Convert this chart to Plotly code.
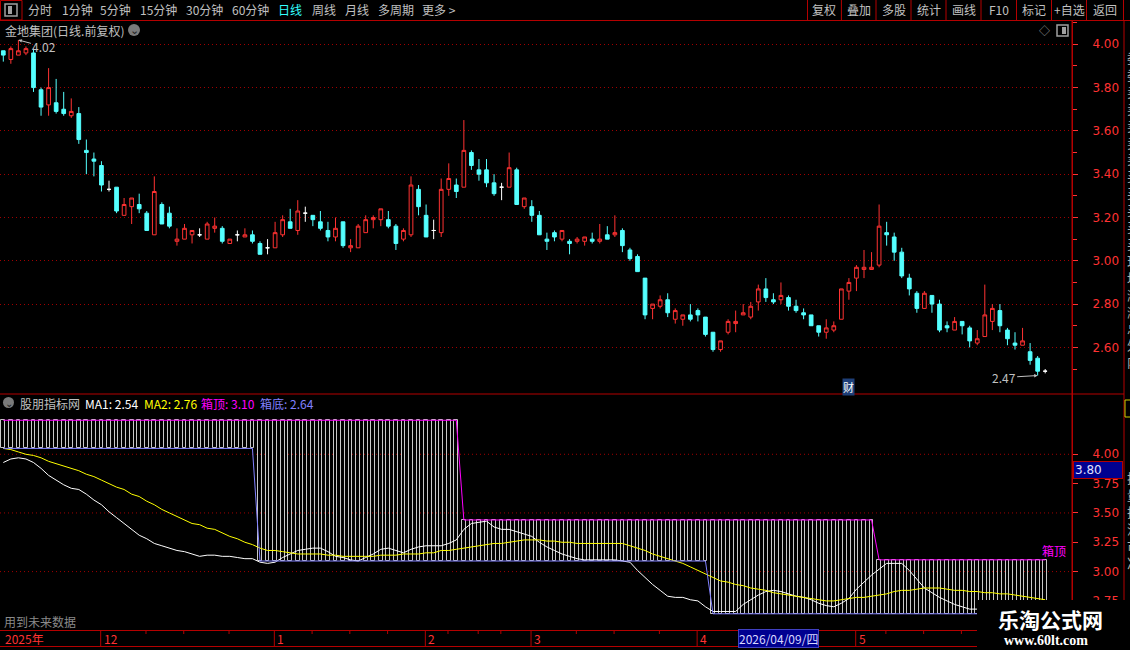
import plotly.graph_objects as go

W, H = 1130, 650

# ---- values ----
opens = [3.97, 3.93, 3.95, 3.96, 3.96, 3.79, 3.72, 3.73, 3.70, 3.67,
         3.68, 3.51, 3.47, 3.44, 3.33, 3.34, 3.21, 3.25, 3.26, 3.22,
         3.12, 3.26, 3.22, 3.09, 3.10, 3.12, 3.12, 3.10, 3.15, 3.15,
         3.08, 3.12, 3.11, 3.12, 3.08, 3.06, 3.06, 3.12, 3.18, 3.14,
         3.22, 3.21, 3.18, 3.14, 3.11, 3.18, 3.06, 3.06, 3.13, 3.19,
         3.19, 3.19, 3.16, 3.10, 3.12, 3.33, 3.21, 3.14, 3.13, 3.33,
         3.35, 3.34, 3.50, 3.42, 3.42, 3.36, 3.34, 3.34, 3.42, 3.25,
         3.25, 3.21, 3.10, 3.13, 3.10, 3.09, 3.09, 3.09, 3.10, 3.09,
         3.12, 3.12, 3.14, 3.05, 3.02, 2.92, 2.78, 2.79, 2.82, 2.73,
         2.73, 2.75, 2.77, 2.74, 2.67, 2.59, 2.67, 2.71, 2.75, 2.74,
         2.81, 2.87, 2.82, 2.82, 2.83, 2.79, 2.76, 2.75, 2.70, 2.67,
         2.68, 2.73, 2.86, 2.92, 2.96, 2.96, 2.98, 3.13, 3.11, 3.04,
         2.92, 2.85, 2.78, 2.84, 2.80, 2.70, 2.68, 2.72, 2.69, 2.62,
         2.65, 2.72, 2.77, 2.68, 2.62, 2.61, 2.58, 2.55, 2.49]
highs = [3.97, 3.99, 4.02, 3.99, 3.98, 3.80, 3.89, 3.84, 3.78, 3.75,
         3.71, 3.56, 3.50, 3.46, 3.37, 3.34, 3.29, 3.29, 3.31, 3.23,
         3.39, 3.27, 3.25, 3.15, 3.17, 3.14, 3.15, 3.18, 3.20, 3.16,
         3.10, 3.14, 3.15, 3.14, 3.09, 3.10, 3.18, 3.21, 3.24, 3.28,
         3.25, 3.21, 3.23, 3.18, 3.20, 3.18, 3.10, 3.17, 3.21, 3.21,
         3.24, 3.23, 3.17, 3.15, 3.39, 3.35, 3.26, 3.19, 3.38, 3.45,
         3.38, 3.65, 3.51, 3.47, 3.47, 3.40, 3.36, 3.50, 3.43, 3.29,
         3.28, 3.23, 3.13, 3.14, 3.14, 3.10, 3.11, 3.11, 3.13, 3.17,
         3.16, 3.21, 3.15, 3.06, 3.03, 2.92, 2.80, 2.84, 2.85, 2.78,
         2.75, 2.80, 2.78, 2.74, 2.67, 2.63, 2.73, 2.77, 2.80, 2.81,
         2.89, 2.92, 2.85, 2.90, 2.84, 2.82, 2.78, 2.75, 2.70, 2.73,
         2.72, 2.87, 2.92, 2.98, 3.05, 3.04, 3.26, 3.18, 3.13, 3.06,
         2.94, 2.86, 2.86, 2.84, 2.82, 2.72, 2.74, 2.72, 2.70, 2.68,
         2.89, 2.80, 2.80, 2.69, 2.67, 2.69, 2.62, 2.56, 2.50]
lows = [3.92, 3.91, 3.95, 3.95, 3.78, 3.67, 3.67, 3.68, 3.67, 3.66,
        3.54, 3.40, 3.39, 3.32, 3.32, 3.22, 3.21, 3.17, 3.22, 3.14,
        3.12, 3.17, 3.15, 3.07, 3.10, 3.08, 3.11, 3.10, 3.13, 3.08,
        3.08, 3.09, 3.11, 3.08, 3.03, 3.03, 3.06, 3.11, 3.15, 3.12,
        3.18, 3.16, 3.14, 3.09, 3.09, 3.06, 3.04, 3.06, 3.13, 3.15,
        3.16, 3.15, 3.05, 3.09, 3.11, 3.21, 3.11, 3.10, 3.11, 3.30,
        3.29, 3.34, 3.42, 3.37, 3.34, 3.30, 3.28, 3.34, 3.26, 3.24,
        3.18, 3.12, 3.05, 3.09, 3.09, 3.03, 3.08, 3.07, 3.08, 3.08,
        3.10, 3.11, 3.04, 3.00, 2.95, 2.73, 2.73, 2.78, 2.74, 2.71,
        2.70, 2.72, 2.72, 2.65, 2.58, 2.58, 2.66, 2.67, 2.75, 2.73,
        2.77, 2.81, 2.80, 2.80, 2.77, 2.76, 2.73, 2.70, 2.65, 2.64,
        2.67, 2.73, 2.82, 2.86, 2.92, 2.96, 2.97, 3.07, 3.00, 2.92,
        2.84, 2.76, 2.78, 2.76, 2.67, 2.67, 2.68, 2.66, 2.60, 2.61,
        2.65, 2.68, 2.67, 2.61, 2.59, 2.61, 2.52, 2.47, 2.48]
closes = [3.95, 3.98, 3.97, 3.98, 3.80, 3.71, 3.80, 3.69, 3.68, 3.69,
          3.56, 3.50, 3.46, 3.35, 3.33, 3.23, 3.26, 3.29, 3.24, 3.14,
          3.32, 3.17, 3.16, 3.10, 3.15, 3.14, 3.12, 3.17, 3.16, 3.09,
          3.10, 3.12, 3.12, 3.09, 3.03, 3.06, 3.13, 3.19, 3.15, 3.23,
          3.22, 3.19, 3.15, 3.11, 3.15, 3.07, 3.07, 3.16, 3.19, 3.20,
          3.24, 3.16, 3.08, 3.14, 3.35, 3.25, 3.11, 3.14, 3.33, 3.38,
          3.32, 3.51, 3.44, 3.40, 3.36, 3.31, 3.34, 3.43, 3.26, 3.29,
          3.21, 3.12, 3.09, 3.11, 3.14, 3.08, 3.10, 3.11, 3.09, 3.10,
          3.10, 3.13, 3.07, 3.01, 2.95, 2.75, 2.80, 2.82, 2.76, 2.77,
          2.75, 2.73, 2.75, 2.66, 2.59, 2.63, 2.72, 2.72, 2.76, 2.79,
          2.87, 2.83, 2.81, 2.84, 2.79, 2.77, 2.75, 2.70, 2.67, 2.69,
          2.70, 2.87, 2.90, 2.97, 2.97, 2.97, 3.16, 3.12, 3.04, 2.93,
          2.87, 2.78, 2.85, 2.80, 2.68, 2.69, 2.72, 2.70, 2.63, 2.64,
          2.75, 2.78, 2.70, 2.64, 2.61, 2.63, 2.54, 2.49, 2.49]

ma1 = [3.93, 3.96, 3.97, 3.96, 3.93, 3.88, 3.82, 3.78, 3.74, 3.71,
       3.70, 3.66, 3.61, 3.57, 3.51, 3.46, 3.41, 3.36, 3.31, 3.28,
       3.24, 3.22, 3.20, 3.18, 3.17, 3.15, 3.13, 3.14, 3.14, 3.13,
       3.13, 3.12, 3.11, 3.11, 3.08, 3.07, 3.08, 3.12, 3.15, 3.18,
       3.19, 3.20, 3.20, 3.17, 3.13, 3.12, 3.10, 3.09, 3.12, 3.15,
       3.19, 3.20, 3.18, 3.16, 3.19, 3.21, 3.22, 3.22, 3.22, 3.24,
       3.27, 3.36, 3.41, 3.42, 3.43, 3.38, 3.36, 3.36, 3.34, 3.32,
       3.30, 3.25, 3.21, 3.18, 3.15, 3.13, 3.11, 3.10, 3.10, 3.10,
       3.10, 3.10, 3.09, 3.08, 3.01, 2.95, 2.89, 2.84, 2.79, 2.78,
       2.78, 2.76, 2.75, 2.70, 2.66, 2.66, 2.66, 2.66, 2.72, 2.76,
       2.80, 2.83, 2.84, 2.83, 2.81, 2.79, 2.78, 2.76, 2.73, 2.71,
       2.70, 2.73, 2.77, 2.85, 2.91, 2.97, 3.02, 3.07, 3.07, 3.07,
       3.01, 2.93, 2.86, 2.82, 2.78, 2.75, 2.72, 2.70, 2.68, 2.68,
       2.66, 2.65, 2.64, 2.62, 2.61, 2.60, 2.58, 2.56, 2.54]
ma2 = [4.05, 4.04, 4.02, 4.00, 3.99, 3.97, 3.94, 3.92, 3.90, 3.88,
       3.86, 3.83, 3.81, 3.78, 3.75, 3.72, 3.70, 3.66, 3.64, 3.60,
       3.57, 3.53, 3.50, 3.47, 3.44, 3.41, 3.40, 3.37, 3.36, 3.33,
       3.30, 3.28, 3.25, 3.23, 3.20, 3.18, 3.18, 3.17, 3.16, 3.15,
       3.15, 3.15, 3.15, 3.14, 3.14, 3.13, 3.13, 3.13, 3.13, 3.13,
       3.14, 3.14, 3.14, 3.15, 3.15, 3.15, 3.16, 3.16, 3.18, 3.18,
       3.19, 3.20, 3.21, 3.22, 3.23, 3.24, 3.24, 3.25, 3.26, 3.27,
       3.27, 3.27, 3.26, 3.26, 3.25, 3.25, 3.24, 3.24, 3.24, 3.24,
       3.24, 3.24, 3.24, 3.22, 3.20, 3.18, 3.15, 3.13, 3.11, 3.09,
       3.07, 3.04, 3.01, 2.98, 2.95, 2.92, 2.91, 2.89, 2.88, 2.86,
       2.85, 2.84, 2.82, 2.81, 2.80, 2.79, 2.78, 2.77, 2.76, 2.75,
       2.75, 2.76, 2.77, 2.78, 2.78, 2.79, 2.80, 2.81, 2.83, 2.84,
       2.84, 2.85, 2.86, 2.86, 2.86, 2.85, 2.84, 2.84, 2.83, 2.83,
       2.82, 2.82, 2.81, 2.81, 2.80, 2.79, 2.78, 2.77, 2.76]
box_top = [4.29] * 61 + [3.44] * 55 + [3.10] * 23
box_bottom = [4.05] * 34 + [3.09] * 60 + [2.64] * 45

price_ticks = [2.6, 2.8, 3.0, 3.2, 3.4, 3.6, 3.8, 4.0]
price_minor = [2.5, 2.7, 2.9, 3.1, 3.3, 3.5, 3.7, 3.9, 4.1]
ind_ticks = [2.75, 3.0, 3.25, 3.5, 3.75, 4.0]
ind_grid = [3.0, 3.5, 4.0]
month_pos = [13, 36, 56, 70, 92, 113]
month_labels = ["12", "1", "2", "3", "4", "5"]
week_pos = [19, 24, 30, 41, 46, 51, 59, 63, 66, 76, 81, 87, 103, 117, 122, 127]
cursor_day = 97
cursor_text = "2026/04/09/四"
cursor_value = 3.80
fin_day = 112

toolbar_left = ["分时", "1分钟", "5分钟", "15分钟", "30分钟", "60分钟", "日线", "周线", "月线", "多周期", "更多 >"]
toolbar_right = ["复权", "叠加", "多股", "统计", "画线", "F10", "标记", "+自选", "返回"]

RED = "#ff3232"
DARKRED = "#b40000"
CYAN = "#54ffff"
GRAY = "#c0c0c0"
FONT = "Noto Sans CJK SC, DejaVu Sans, sans-serif"


def px(x):
    return x / W


def py(y):
    return 1 - y / H


days = list(range(len(closes)))
fig = go.Figure()


def add_candles(ids, line_color, fill):
    fig.add_trace(go.Candlestick(
        x=ids,
        open=[opens[i] for i in ids], high=[highs[i] for i in ids],
        low=[lows[i] for i in ids], close=[closes[i] for i in ids],
        increasing=dict(line=dict(color=line_color, width=1), fillcolor=fill),
        decreasing=dict(line=dict(color=line_color, width=1), fillcolor=fill),
        whiskerwidth=0, showlegend=False, hoverinfo="skip",
        xaxis="x", yaxis="y"))


add_candles([i for i in days if closes[i] > opens[i]], RED, "#000000")
add_candles([i for i in days if closes[i] < opens[i]], CYAN, CYAN)
add_candles([i for i in days if closes[i] == opens[i]], "#ffffff", "#ffffff")

# lower panel: hollow box bars, box top/bottom, two MAs
fig.add_trace(go.Bar(
    x=days, y=[t - b for t, b in zip(box_top, box_bottom)], base=box_bottom,
    width=0.5, marker=dict(color="rgba(0,0,0,0)", line=dict(color="#c8c8c8", width=1)),
    xaxis="x2", yaxis="y2", showlegend=False, hoverinfo="skip"))
fig.add_trace(go.Scatter(x=days, y=ma1, mode="lines", line=dict(color="#ffffff", width=1),
                         xaxis="x2", yaxis="y2", showlegend=False, hoverinfo="skip"))
fig.add_trace(go.Scatter(x=days, y=ma2, mode="lines", line=dict(color="#ffff00", width=1),
                         xaxis="x2", yaxis="y2", showlegend=False, hoverinfo="skip"))
fig.add_trace(go.Scatter(x=days, y=box_bottom, mode="lines", line=dict(color="#8080ff", width=1),
                         xaxis="x2", yaxis="y2", showlegend=False, hoverinfo="skip"))
fig.add_trace(go.Scatter(x=days, y=box_top, mode="lines", line=dict(color="#ff00ff", width=1),
                         xaxis="x2", yaxis="y2", showlegend=False, hoverinfo="skip"))

xr = [-0.437, 141.55]
xdom = [0, px(1072)]
fig.update_layout(
    width=W, height=H, margin=dict(l=0, r=0, t=0, b=0),
    paper_bgcolor="#000000", plot_bgcolor="#000000",
    font=dict(family=FONT, size=12, color=GRAY),
    showlegend=False, bargap=0,
    xaxis=dict(domain=xdom, range=xr, anchor="y", showticklabels=False, showgrid=False,
               zeroline=False, showline=False, ticks="", rangeslider=dict(visible=False)),
    xaxis2=dict(domain=xdom, range=xr, anchor="y2", matches="x", showticklabels=False,
                showgrid=False, zeroline=False, showline=False, ticks=""),
    yaxis=dict(domain=[py(394), py(21)], range=[2.3847, 4.1076], side="right", anchor="x",
               tickmode="array", tickvals=price_ticks, ticktext=["%.2f" % v for v in price_ticks],
               tickfont=dict(color=RED, size=12, family="DejaVu Sans"),
               ticks="outside", ticklen=5, tickcolor=RED, ticklabelstandoff=12,
               showgrid=True, gridcolor="#a00000", griddash="1px,3px", gridwidth=1,
               zeroline=False, showline=True, linecolor=DARKRED, linewidth=1,
               minor=dict(tickmode="array", tickvals=price_minor, ticks="outside", ticklen=4,
                          tickcolor=RED, showgrid=False)),
    yaxis2=dict(domain=[py(630), py(394)], range=[2.502, 4.514], side="right", anchor="x2",
                tickmode="array", tickvals=ind_ticks, ticktext=["%.2f" % v for v in ind_ticks],
                tickfont=dict(color=RED, size=12, family="DejaVu Sans"),
                ticks="outside", ticklen=5, tickcolor=RED, ticklabelstandoff=12,
                showgrid=False, zeroline=False, showline=True, linecolor=DARKRED, linewidth=1),
)

shapes = []
ann = []


def hline(y, x0=0, x1=W, color=DARKRED):
    shapes.append(dict(type="line", xref="paper", yref="paper", x0=px(x0), x1=px(x1),
                       y0=py(y), y1=py(y), line=dict(color=color, width=1)))


def vline(x, y0, y1, color=DARKRED):
    shapes.append(dict(type="line", xref="paper", yref="paper", x0=px(x), x1=px(x),
                       y0=py(y0), y1=py(y1), line=dict(color=color, width=1)))


def text(x, y, s, color=GRAY, size=12, anchor="left", family=FONT, **kw):
    ann.append(dict(xref="paper", yref="paper", x=px(x), y=py(y), text=s, showarrow=False,
                    xanchor=anchor, yanchor="middle",
                    font=dict(color=color, size=size, family=family), **kw))


# toolbar
hline(20.5)
shapes.append(dict(type="rect", xref="paper", yref="paper", x0=px(0.5), x1=px(22), y0=py(20),
                   y1=py(0.5), line=dict(color=DARKRED, width=1)))
shapes.append(dict(type="rect", xref="paper", yref="paper", x0=px(5), x1=px(17), y0=py(16),
                   y1=py(4), line=dict(color="#a0a0a0", width=1.5)))
shapes.append(dict(type="rect", xref="paper", yref="paper", x0=px(8), x1=px(12), y0=py(14),
                   y1=py(6), fillcolor="#a0a0a0", line=dict(width=0)))
left_centers = [40, 77, 115, 158, 204, 250, 290, 324, 357, 396, 439]
for cx, s in zip(left_centers, toolbar_left):
    text(cx, 10, s, color="#33ffff" if s == "日线" else GRAY, anchor="center")
seps = [807.5, 841.4, 876, 911, 946, 981, 1016.5, 1051.5, 1086.5, 1123.5]
for xs in seps:
    vline(xs, 0, 20)
for a, b, s in zip(seps[:-1], seps[1:], toolbar_right):
    text((a + b) / 2, 10, s, anchor="center")

# panel titles
text(3, 30, "金地集团(日线.前复权)")
shapes.append(dict(type="circle", xref="paper", yref="paper", x0=px(128), x1=px(140),
                   y0=py(36), y1=py(24), fillcolor="#7a7a7a", line=dict(width=0)))
text(134, 29.5, "⌄", color="#202020", size=11, anchor="center")
text(1044, 30, "◇", color="#a0a0a0", size=11, anchor="center")
shapes.append(dict(type="rect", xref="paper", yref="paper", x0=px(1057), x1=px(1068), y0=py(36),
                   y1=py(25), line=dict(color="#a0a0a0", width=1.5)))
shapes.append(dict(type="rect", xref="paper", yref="paper", x0=px(1062), x1=px(1066), y0=py(34),
                   y1=py(27), fillcolor="#a0a0a0", line=dict(width=0)))

hline(394, 0, 1124)
shapes.append(dict(type="circle", xref="paper", yref="paper", x0=px(3), x1=px(14),
                   y0=py(408), y1=py(397), fillcolor="#7a7a7a", line=dict(width=0)))
text(8.5, 402, "⌄", color="#202020", size=10, anchor="center")
text(18, 403, "股朋指标网")
text(83, 403, "MA1: %.2f" % ma1[-1], color="#ffffff")
text(142, 403, "MA2: %.2f" % ma2[-1], color="#ffff00")
text(199, 403, "箱顶: %.2f" % box_top[-1], color="#ff00ff")
text(258, 403, "箱底: %.2f" % box_bottom[-1], color="#8080ff")

# lower panel gridlines
for g in ind_grid:
    shapes.append(dict(type="line", xref="x2 domain", yref="y2", x0=0, x1=1, y0=g, y1=g,
                       layer="below", line=dict(color="#a00000", width=1, dash="1px,3px")))

# price markers on the candle panel
ann.append(dict(xref="x", yref="y", x=2, y=highs[2], text="%.2f" % highs[2], showarrow=True,
                ax=26, ay=7, arrowhead=2, arrowsize=0.7, arrowwidth=1, arrowcolor=GRAY,
                font=dict(color=GRAY, size=12, family=FONT)))
ann.append(dict(xref="x", yref="y", x=137, y=lows[137], text="%.2f" % lows[137], showarrow=True,
                ax=-34, ay=2, arrowhead=2, arrowsize=0.7, arrowwidth=1, arrowcolor=GRAY,
                font=dict(color=GRAY, size=12, family=FONT)))
ann.append(dict(xref="x", yref="paper", x=fin_day, y=py(387), text="财", showarrow=False,
                bgcolor="#1e3f78", font=dict(color="#ffffff", size=11, family=FONT),
                borderpad=0, xanchor="center", yanchor="middle"))
ann.append(dict(xref="x2", yref="y2", x=len(days) - 1, y=box_top[-1], text="箱顶", showarrow=False,
                xanchor="left", yanchor="bottom", xshift=-5, yshift=-1,
                font=dict(color="#ff00ff", size=12, family=FONT)))
ann.append(dict(xref="paper", yref="paper", x=px(1073), y=py(470), text="%.2f" % cursor_value,
                showarrow=False, xanchor="left", yanchor="middle", width=46, height=14, align="left",
                bgcolor="#000090", bordercolor=DARKRED, borderwidth=1,
                font=dict(color="#e0e0ff", size=12, family="DejaVu Sans")))

# date axis strip
hline(630.5, 0, 1124)
hline(646.5, 0, 1124)
text(3, 638, "2025年", color=RED)
for m, lab in zip(month_pos, month_labels):
    shapes.append(dict(type="line", xref="x2", yref="paper", x0=m - 0.1, x1=m - 0.1,
                       y0=py(646), y1=py(630), line=dict(color=DARKRED, width=1)))
    ann.append(dict(xref="x2", yref="paper", x=m - 0.1, y=py(638), text=lab, showarrow=False,
                    xanchor="left", yanchor="middle", xshift=1,
                    font=dict(color=RED, size=12, family=FONT)))
for w in week_pos:
    shapes.append(dict(type="line", xref="x2", yref="paper", x0=w - 0.1, x1=w - 0.1,
                       y0=py(634), y1=py(630), line=dict(color=DARKRED, width=1)))
ann.append(dict(xref="x2", yref="paper", x=cursor_day, y=py(638), text=cursor_text, showarrow=False,
                xanchor="left", yanchor="middle", xshift=2, bgcolor="#000090",
                bordercolor="#4040c0", borderwidth=1, borderpad=0,
                font=dict(color="#d8d8ff", size=12, family=FONT)))
text(2, 621, "用到未来数据", color="#8a8a8a")

# right edge strip (cut-off side panel)
vline(1072, 21, 646)
vline(1124, 21, 646)
text(1125, 210, "委<br>委<br>卖<br>卖<br>卖<br>卖<br>卖<br>买<br>买<br>买<br>买<br>买<br>现<br>均<br>涨<br>涨<br>总<br>外<br>内",
     color="#b0b0b0", size=13, align="left")
shapes.append(dict(type="rect", xref="paper", yref="paper", x0=px(1125), x1=px(1140), y0=py(417),
                   y1=py(400), line=dict(color="#d0d000", width=1)))
text(1125, 520, "换<br>量<br>振<br>流<br>市<br>净", color="#b0b0b0", size=13, align="left")

# watermark
shapes.append(dict(type="rect", xref="paper", yref="paper", x0=px(977), x1=px(1131), y0=py(651),
                   y1=py(600), fillcolor="#000000", line=dict(width=0), layer="above"))
ann.append(dict(xref="paper", yref="paper", x=px(1050), y=py(619), text="<b>乐淘公式网</b>",
                showarrow=False, xanchor="center", yanchor="middle",
                font=dict(color="#ffffff", size=21, family=FONT)))
ann.append(dict(xref="paper", yref="paper", x=px(1046), y=py(640), text="<b>www.60lt.com</b>",
                showarrow=False, xanchor="center", yanchor="middle",
                font=dict(color="#ffffff", size=14, family="Liberation Serif, DejaVu Serif, serif")))

fig.update_layout(shapes=shapes, annotations=ann)
fig.write_html("out.html", config={"displayModeBar": False},
               post_script="document.body.style.margin='0';document.body.style.background='#000';")
